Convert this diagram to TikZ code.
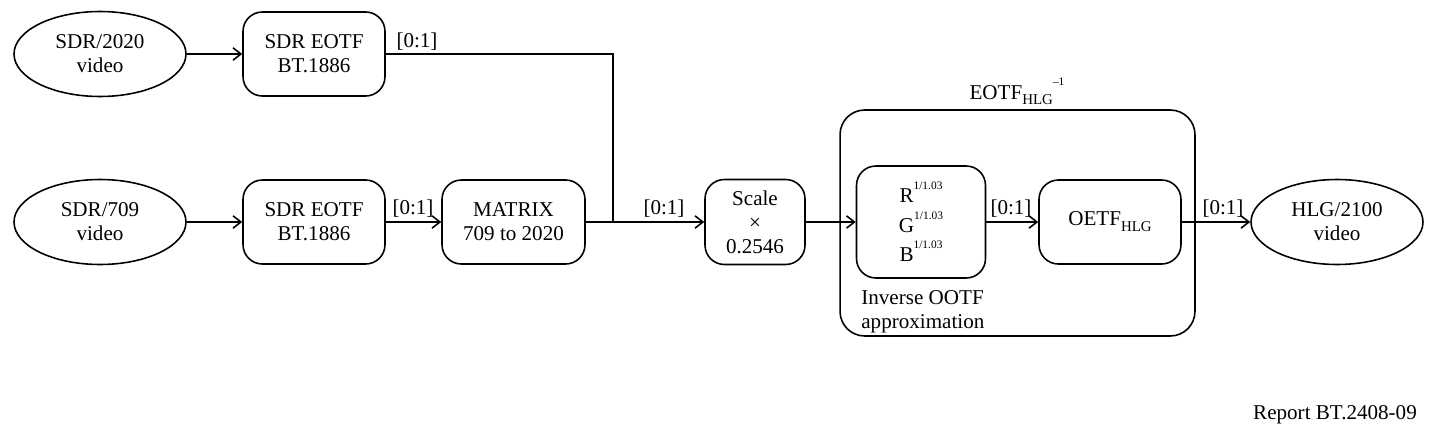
\documentclass[tikz,border=0pt]{standalone}
\usepackage{fontspec}
\setmainfont{Liberation Serif}
\usetikzlibrary{positioning,shapes.geometric,arrows.meta}
\newcommand{\supidx}[1]{\raisebox{7.5pt}{\fontsize{6.5}{7}\selectfont #1}}
\newcommand{\subidx}[1]{\raisebox{-3.4pt}{\fontsize{8.5}{9}\selectfont #1}}
\tikzset{
  blk/.style={draw,line width=0.9pt,rounded corners=11pt,align=center,inner sep=1pt,minimum width=2.84cm,minimum height=1.68cm},
  vid/.style={draw,line width=0.9pt,ellipse,align=center,inner sep=0pt,minimum width=3.44cm,minimum height=1.7cm},
  rng/.style={inner sep=1pt},
  flow/.style={line width=0.9pt,-{Straight Barb[length=4.5pt,width=7pt]}}
}

\begin{document}
\begin{tikzpicture}[x=0.02cm,y=-0.02cm,font=\fontsize{12}{13.6}\selectfont]
  \useasboundingbox (0,0) rectangle (1434,436);
  \node[vid] (sdra) at (100,54) {SDR/2020\\video};
  \node[blk] (eotfa) at (314,54) {SDR EOTF\\BT.1886};
  \node[vid] (sdrb) at (100,222) {SDR/709\\video};
  \node[blk] (eotfb) at (314,222) {SDR EOTF\\BT.1886};
  \node[blk,minimum width=2.86cm] (matrix) at (513.5,222) {MATRIX\\709 to 2020};
  \node[blk,minimum width=2cm,minimum height=1.7cm] (scale) at (755,222) {Scale\\\texttimes\\0.2546};
  \node[draw,line width=0.9pt,rounded corners=14pt,minimum width=7.1cm,minimum height=4.52cm] (hlg) at (1017.5,223) {};
  \node[anchor=base] (hlglbl) at (1017,99) {EOTF\subidx{HLG}\supidx{--1}};
  \node[blk,minimum width=2.58cm,minimum height=2.24cm,font=\fontsize{12}{16.8}\selectfont] (rgb) at (921,222) {R\supidx{1/1.03}\\G\supidx{1/1.03}\\B\supidx{1/1.03}};
  \node[anchor=north west,align=left,inner sep=0pt] (ootf) at (861,290) {Inverse OOTF\\approximation};
  \node[blk] (oetf) at (1110,222) {OETF\subidx{HLG}};
  \node[vid] (hlgvid) at (1337,222) {HLG/2100\\video};
  \node[rng] (ra) at (417,42) {[0:1]};
  \node[rng] (rb) at (413,209) {[0:1]};
  \node[rng] (rc) at (664,209) {[0:1]};
  \node[rng] (rd) at (1011,209) {[0:1]};
  \node[rng] (re) at (1223,209) {[0:1]};
  \node[anchor=base east] (report) at (1423,419) {Report BT.2408-09};
  \coordinate (join) at (613,222);
  \draw[flow] (sdra) -- (eotfa);
  \draw[flow] (sdrb) -- (eotfb);
  \draw[line width=0.9pt] (eotfa.east) -| (join);
  \draw[flow] (eotfb) -- (matrix);
  \draw[flow] (matrix) -- (scale);
  \draw[flow] (scale) -- (rgb);
  \draw[flow] (rgb) -- (oetf);
  \draw[flow] (oetf) -- (hlgvid);
\end{tikzpicture}
\end{document}
